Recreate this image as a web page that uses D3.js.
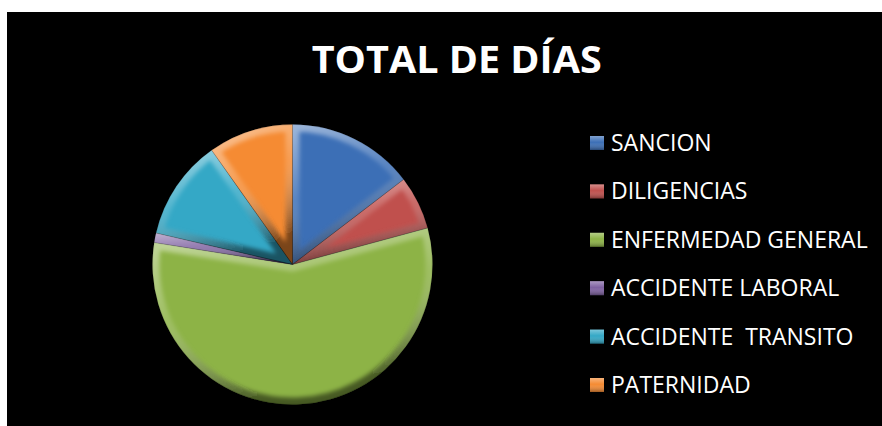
<!DOCTYPE html>
<html><head><meta charset="utf-8">
<script src="https://cdn.jsdelivr.net/npm/d3@7"></script>
<style>html,body{margin:0;padding:0;background:#fff;}svg{display:block;}</style>
</head><body>
<script>
const categories = ["SANCION","DILIGENCIAS","ENFERMEDAD GENERAL","ACCIDENTE LABORAL","ACCIDENTE  TRANSITO","PATERNIDAD"];
const values = [146, 62, 567, 11, 116, 98];
const colors = ["#3C6FB6","#C0504D","#8DB346","#7F62A1","#34A8C6","#F58B33"];
const title = "TOTAL DE DÍAS";

const W = 882, H = 426;
const svg = d3.select("body").append("svg").attr("width", W).attr("height", H);
const defs = svg.append("defs");

svg.append("rect").attr("x", 7).attr("y", 12).attr("width", W - 7).attr("height", H - 12).attr("fill", "#000");

// bevel gradient
const bg = defs.append("linearGradient").attr("id", "bevel").attr("x1", 0).attr("y1", 0).attr("x2", 0.3).attr("y2", 1);
bg.append("stop").attr("offset", "0%").attr("stop-color", "#fff").attr("stop-opacity", 0.5);
bg.append("stop").attr("offset", "50%").attr("stop-color", "#fff").attr("stop-opacity", 0.15);
bg.append("stop").attr("offset", "100%").attr("stop-color", "#000").attr("stop-opacity", 0.5);
defs.append("filter").attr("id", "blur").attr("x", "-10%").attr("y", "-10%").attr("width", "120%").attr("height", "120%")
  .append("feGaussianBlur").attr("stdDeviation", 2);

const cx = 292.5, cy = 264.5, r = 140;
const pie = d3.pie().sort(null).value(d => d)(values);
const arc = d3.arc().innerRadius(0).outerRadius(r);
const g = svg.append("g").attr("transform", `translate(${cx},${cy})`);

pie.forEach((p, i) => {
  const d = arc(p);
  defs.append("clipPath").attr("id", "clip" + i).append("path").attr("d", d).attr("transform", `translate(${cx},${cy})`);
  g.append("path").attr("d", d).attr("fill", colors[i]);
});
pie.forEach((p, i) => {
  const d = arc(p);
  svg.append("g").attr("clip-path", `url(#clip${i})`)
    .append("path").attr("d", d).attr("transform", `translate(${cx},${cy})`)
    .attr("fill", "none").attr("stroke", "url(#bevel)").attr("stroke-width", 14)
    .attr("stroke-linejoin", "round").attr("filter", "url(#blur)");
});
g.selectAll("path.edge").data(pie).enter().append("path").attr("class", "edge")
  .attr("d", arc).attr("fill", "none").attr("stroke", "#000").attr("stroke-opacity", 0.25).attr("stroke-width", 0.8);

// title
svg.append("text").attr("x", 456.7).attr("y", 73.3).attr("text-anchor", "middle")
  .attr("font-family", "Open Sans").attr("font-weight", "bold").attr("font-size", 38)
  .attr("fill", "#fff").attr("textLength", 290).attr("lengthAdjust", "spacingAndGlyphs").text(title);

// legend
const mg = defs.append("linearGradient").attr("id", "mk").attr("x1", 0).attr("y1", 0).attr("x2", 0).attr("y2", 1);
mg.append("stop").attr("offset", "0%").attr("stop-color", "#fff").attr("stop-opacity", 0.35);
mg.append("stop").attr("offset", "45%").attr("stop-color", "#fff").attr("stop-opacity", 0);
mg.append("stop").attr("offset", "100%").attr("stop-color", "#000").attr("stop-opacity", 0.35);
const ly = d3.scalePoint().domain(categories).range([143, 385]);
const lg = svg.append("g");
categories.forEach((c, i) => {
  const y = ly(c);
  lg.append("rect").attr("x", 590).attr("y", y - 7).attr("width", 14).attr("height", 14).attr("fill", colors[i]);
  lg.append("rect").attr("x", 590).attr("y", y - 7).attr("width", 14).attr("height", 14).attr("fill", "url(#mk)");
  lg.append("text").attr("x", 611).attr("y", y + 8).attr("font-family", "Open Sans").attr("font-size", 23)
    .attr("fill", "#fff").attr("xml:space", "preserve").style("white-space", "pre").text(c);
});
</script>
</body></html>
